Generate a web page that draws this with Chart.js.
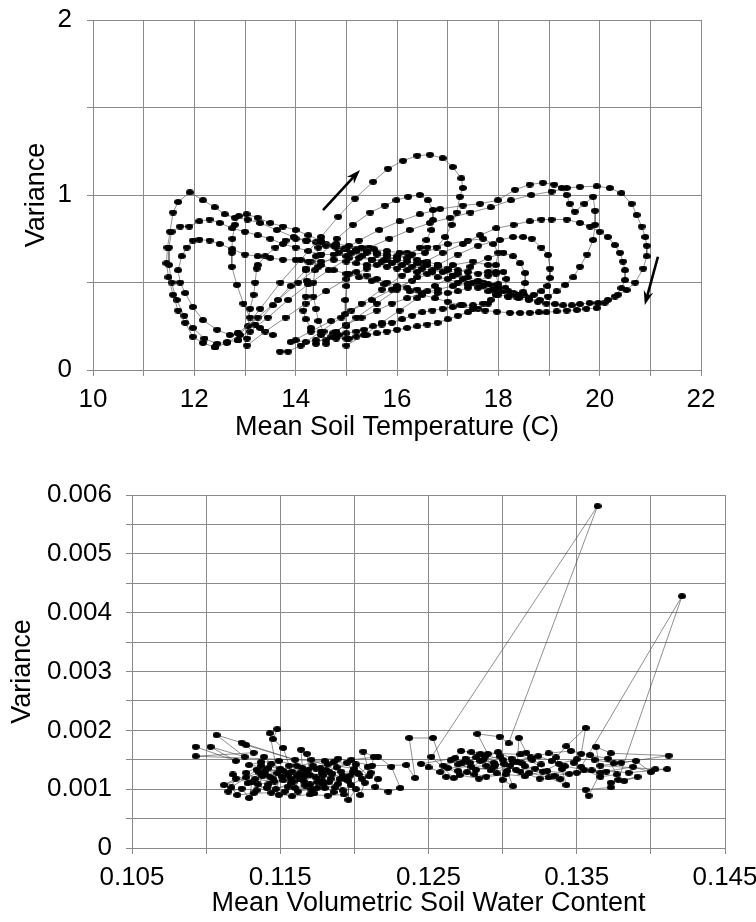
<!DOCTYPE html>
<html>
<head>
<meta charset="utf-8">
<script src="https://cdn.jsdelivr.net/npm/chart.js@4.4.1/dist/chart.umd.min.js"></script>
<style>
  body { margin: 0; background: #fff; overflow: hidden; }
  canvas { position: absolute; left: 0; }
  #tempChart { top: 0; }
  #waterChart { top: 460px; }
</style>
</head>
<body>
<canvas id="tempChart" width="756" height="460"></canvas>
<canvas id="waterChart" width="756" height="462"></canvas>
<script>
// top panel: variance vs mean soil temperature, one array per daily loop [temp, variance]
const cycle1 = [[12.41,0.13],[12.64,0.155],[12.9,0.2],[13.3,0.35],[13.7,0.5],[14.1,0.63],[14.5,0.76],[14.84,0.876],[15.17,0.98],[15.53,1.076],[15.82,1.15],[16.12,1.196],[16.4,1.225],[16.65,1.23],[16.9,1.21],[17.1,1.16],[17.27,1.095],[17.3,1.04],[17.24,0.99],[17.18,0.9],[17.08,0.83],[16.95,0.76],[16.78,0.7],[16.55,0.67],[16.3,0.66],[16.05,0.67],[15.8,0.68],[15.55,0.69],[15.3,0.7],[15.05,0.71],[14.8,0.72],[14.5,0.73],[14.22,0.74],[13.96,0.76],[13.63,0.8],[13.3,0.84],[13.05,0.86],[12.8,0.87],[12.6,0.89],[12.4,0.93],[12.17,0.97],[11.91,1.015],[11.68,0.96],[11.58,0.9],[11.52,0.79],[11.47,0.7],[11.45,0.61],[11.49,0.53],[11.58,0.43],[11.68,0.34],[11.82,0.27],[11.97,0.19],[12.17,0.155],[12.41,0.13]];
const cycle2 = [[12.86,0.17],[13.2,0.26],[13.55,0.37],[13.9,0.48],[14.2,0.57],[14.5,0.66],[14.81,0.75],[15.13,0.83],[15.47,0.9],[15.76,0.94],[15.99,0.97],[16.22,0.99],[16.45,1.0],[16.61,0.97],[16.71,0.914],[16.71,0.857],[16.68,0.8],[16.58,0.743],[16.45,0.7],[16.25,0.66],[16.0,0.64],[15.75,0.63],[15.5,0.63],[15.25,0.64],[15.0,0.65],[14.75,0.66],[14.5,0.66],[14.25,0.68],[14.0,0.7],[13.75,0.72],[13.5,0.75],[13.25,0.77],[13.0,0.79],[12.75,0.81],[12.5,0.84],[12.3,0.86],[12.1,0.85],[11.9,0.82],[11.72,0.82],[11.55,0.79],[11.5,0.7],[11.5,0.6],[11.55,0.5],[11.65,0.4],[11.8,0.31],[11.97,0.24],[12.2,0.18],[12.45,0.15],[12.65,0.16],[12.86,0.17]];
const cycle3 = [[12.86,0.21],[13.25,0.3],[13.65,0.4],[14.05,0.5],[14.45,0.59],[14.85,0.67],[15.25,0.74],[15.65,0.8],[16.05,0.85],[16.45,0.89],[16.85,0.92],[17.3,0.94],[17.64,0.95],[17.99,0.97],[18.33,1.03],[18.62,1.06],[18.88,1.07],[19.1,1.06],[19.25,1.04],[19.35,1.0],[19.41,0.95],[19.51,0.905],[19.7,0.95],[19.87,0.99],[19.91,0.91],[19.91,0.83],[19.87,0.743],[19.75,0.66],[19.61,0.59],[19.48,0.53],[19.32,0.486],[19.15,0.45],[18.98,0.42],[18.82,0.4],[18.6,0.4],[18.4,0.41],[18.2,0.42],[18.0,0.43],[17.8,0.45],[17.6,0.47],[17.4,0.49],[17.2,0.5],[17.0,0.52],[16.8,0.53],[16.6,0.55],[16.4,0.56],[16.2,0.57],[16.0,0.58],[15.8,0.59],[15.6,0.6],[15.4,0.6],[15.2,0.61],[15.0,0.62],[14.75,0.63],[14.5,0.62],[14.25,0.62],[14.0,0.63],[13.75,0.63],[13.5,0.64],[13.25,0.65],[13.0,0.66],[12.75,0.69],[12.5,0.72],[12.3,0.74],[12.1,0.745],[11.97,0.74],[11.85,0.7],[11.75,0.65],[11.68,0.57],[11.72,0.5],[11.82,0.44],[11.97,0.36],[12.17,0.285],[12.45,0.23],[12.7,0.2],[12.86,0.21]];
const cycle4 = [[13.1,0.22],[13.45,0.3],[13.85,0.4],[14.25,0.49],[14.65,0.57],[15.05,0.64],[15.45,0.7],[15.85,0.75],[16.25,0.8],[16.65,0.84],[17.05,0.87],[17.45,0.9],[17.85,0.93],[18.25,0.97],[18.65,1.0],[19.05,1.02],[19.35,1.04],[19.61,1.047],[19.94,1.05],[20.2,1.04],[20.43,1.01],[20.63,0.95],[20.73,0.886],[20.83,0.82],[20.9,0.76],[20.93,0.71],[20.93,0.65],[20.86,0.58],[20.7,0.5],[20.53,0.457],[20.36,0.43],[20.16,0.4],[19.97,0.383],[19.8,0.383],[19.61,0.377],[19.45,0.37],[19.28,0.37],[19.12,0.377],[18.95,0.38],[18.78,0.39],[18.6,0.41],[18.4,0.43],[18.2,0.45],[18.0,0.47],[17.8,0.49],[17.6,0.51],[17.4,0.53],[17.2,0.55],[17.0,0.57],[16.8,0.59],[16.6,0.6],[16.4,0.61],[16.2,0.62],[16.0,0.63],[15.8,0.65],[15.6,0.66],[15.4,0.67],[15.2,0.68],[15.0,0.69],[14.75,0.71],[14.5,0.74],[14.25,0.77],[14.0,0.8],[13.75,0.82],[13.5,0.84],[13.25,0.87],[13.03,0.89],[12.88,0.88],[12.8,0.83],[12.75,0.75],[12.74,0.67],[12.74,0.59],[12.84,0.486],[12.97,0.38],[13.1,0.3],[13.3,0.24],[13.55,0.2]];
const cycle5 = [[13.69,0.105],[13.85,0.105],[14.1,0.14],[14.5,0.22],[14.9,0.3],[15.3,0.38],[15.7,0.46],[16.1,0.54],[16.5,0.61],[16.9,0.67],[17.3,0.72],[17.64,0.77],[17.96,0.81],[18.3,0.83],[18.62,0.85],[18.85,0.86],[19.05,0.86],[19.35,0.86],[19.61,0.84],[19.81,0.82],[20.0,0.79],[20.16,0.76],[20.3,0.714],[20.4,0.67],[20.46,0.62],[20.5,0.57],[20.5,0.514],[20.43,0.468],[20.3,0.42],[20.1,0.385],[19.94,0.354],[19.74,0.35],[19.55,0.343],[19.35,0.34],[19.15,0.335],[18.95,0.33],[18.8,0.33],[18.62,0.327],[18.43,0.326],[18.23,0.327],[17.97,0.333],[17.74,0.34],[17.5,0.35],[17.25,0.37],[17.0,0.39],[16.75,0.41],[16.5,0.43],[16.25,0.45],[16.0,0.47],[15.75,0.49],[15.5,0.51],[15.25,0.53],[15.0,0.55],[14.75,0.57],[14.5,0.6],[14.3,0.62],[14.2,0.58],[14.22,0.51],[14.2,0.42],[14.15,0.34],[14.2,0.29],[14.3,0.24],[14.5,0.2]];
const cycle6 = [[14.4,0.15],[14.8,0.22],[15.2,0.3],[15.6,0.38],[16.0,0.46],[16.4,0.53],[16.8,0.6],[17.2,0.66],[17.6,0.71],[18.03,0.743],[18.29,0.76],[18.49,0.76],[18.66,0.75],[18.85,0.7],[18.98,0.657],[19.02,0.58],[19.02,0.526],[18.97,0.48],[18.85,0.45],[18.7,0.43],[18.5,0.43],[18.3,0.44],[18.1,0.45],[17.9,0.46],[17.7,0.48],[17.5,0.5],[17.3,0.52],[17.1,0.54],[16.9,0.56],[16.7,0.57],[16.5,0.58],[16.3,0.59],[16.1,0.6],[15.9,0.61],[15.7,0.62],[15.5,0.63],[15.3,0.65],[15.1,0.67],[14.95,0.69],[14.8,0.7],[14.6,0.71],[14.45,0.7],[14.4,0.65],[14.38,0.57],[14.35,0.5],[14.35,0.42],[14.4,0.35],[14.45,0.28],[14.55,0.22]];
const cycle7 = [[15.0,0.14],[15.35,0.2],[15.7,0.27],[16.05,0.34],[16.4,0.41],[16.75,0.48],[17.1,0.54],[17.45,0.59],[17.8,0.64],[18.1,0.67],[18.29,0.65],[18.43,0.61],[18.53,0.554],[18.53,0.497],[18.49,0.447],[18.35,0.42],[18.2,0.42],[18.14,0.47],[18.16,0.52],[18.1,0.56],[17.95,0.56],[17.8,0.54],[17.6,0.5],[17.4,0.47],[17.2,0.45],[17.0,0.44],[16.8,0.44],[16.6,0.45],[16.4,0.46],[16.2,0.47],[16.0,0.48],[15.8,0.5],[15.6,0.52],[15.4,0.54],[15.2,0.56],[15.05,0.55],[15.0,0.48],[14.98,0.4],[14.98,0.32],[15.0,0.25],[15.05,0.18]];
const cycle8 = [[13.9,0.16],[14.3,0.22],[14.7,0.28],[15.1,0.34],[15.5,0.4],[15.9,0.46],[16.3,0.51],[16.7,0.56],[17.1,0.6],[17.5,0.62],[17.8,0.6],[17.95,0.55],[18.0,0.49],[17.95,0.43],[17.8,0.38],[17.6,0.35],[17.4,0.33],[17.2,0.31],[17.0,0.29],[16.8,0.27],[16.6,0.26],[16.4,0.25],[16.2,0.24],[16.0,0.23],[15.8,0.22],[15.6,0.21],[15.4,0.2],[15.2,0.19],[15.0,0.18],[14.8,0.18],[14.6,0.17],[14.4,0.17],[14.2,0.16],[14.0,0.17]];
const cycle9 = [[13.04,0.14],[13.4,0.22],[13.8,0.3],[14.2,0.38],[14.6,0.45],[15.0,0.52],[15.4,0.58],[15.8,0.63],[16.2,0.67],[16.6,0.7],[17.0,0.72],[17.4,0.74],[17.7,0.75],[17.9,0.72],[18.0,0.67],[17.95,0.6],[17.8,0.56],[17.6,0.55],[17.4,0.56],[17.2,0.57],[17.0,0.58],[16.8,0.6],[16.6,0.62],[16.4,0.63],[16.2,0.64],[16.0,0.65],[15.8,0.66],[15.6,0.67],[15.4,0.68],[15.2,0.69],[15.0,0.7],[14.8,0.71],[14.6,0.72],[14.4,0.73],[14.2,0.74],[14.0,0.75],[13.8,0.74],[13.6,0.7],[13.4,0.65],[13.25,0.6],[13.23,0.58],[13.2,0.5],[13.17,0.43],[13.1,0.35],[13.06,0.25],[13.04,0.18]];
const cycle10 = [[14.6,0.15],[14.74,0.21],[15.0,0.26],[15.3,0.3],[15.6,0.34],[15.9,0.38],[16.2,0.41],[16.5,0.44],[16.8,0.46],[17.1,0.48],[17.4,0.49],[17.7,0.5],[17.9,0.48],[17.95,0.44],[17.85,0.4],[17.7,0.38],[17.5,0.37],[17.3,0.37],[17.1,0.36],[16.9,0.35],[16.7,0.34],[16.5,0.33],[16.3,0.31],[16.1,0.29],[15.9,0.27],[15.7,0.26],[15.53,0.25],[15.35,0.23],[15.2,0.22],[15.0,0.21],[14.85,0.2],[14.7,0.19]];
const tempCycles = [cycle1, cycle2, cycle3, cycle4, cycle5, cycle6, cycle7, cycle8, cycle9, cycle10];

// arrows drawn in data units: [fromX, fromY, toX, toY]
const arrows = [[14.54, 0.914, 15.27, 1.143], [21.15, 0.647, 20.89, 0.371]];

// bottom panel: variance vs mean volumetric soil water content [water, variance]
const drySpell = [[0.1093,0.00172],[0.1120,0.00148],[0.1103,0.00172],[0.1126,0.00155],[0.1107,0.00192],[0.1124,0.00179],[0.1160,0.00150],[0.1127,0.00175],[0.1132,0.00162],[0.1093,0.00156],[0.1180,0.00148],[0.1136,0.00128],[0.1112,0.00107],[0.1120,0.00118],[0.1115,0.00096],[0.1124,0.00101],[0.1129,0.00085],[0.1131,0.00112],[0.1138,0.00122],[0.1134,0.00098],[0.1142,0.00108],[0.1149,0.00090],[0.1145,0.00118],[0.1140,0.00132],[0.1148,0.00127],[0.1143,0.00195],[0.1148,0.00202],[0.1145,0.00185],[0.1152,0.00170],[0.1156,0.00140],[0.1151,0.00121],[0.1157,0.00110],[0.1153,0.00096],[0.1160,0.00102],[0.1163,0.00118],[0.1158,0.00130],[0.1165,0.00136],[0.1164,0.00167],[0.1168,0.00160],[0.1170,0.00124],[0.1167,0.00106],[0.1173,0.00093],[0.1175,0.00112],[0.1178,0.00128],[0.1172,0.00140],[0.1181,0.00133],[0.1184,0.00118],[0.1180,0.00102],[0.1186,0.00095],[0.1189,0.00109],[0.1192,0.00123],[0.1188,0.00137],[0.1195,0.00145],[0.1199,0.00130],[0.1196,0.00114],[0.1196,0.00082],[0.1201,0.00100],[0.1204,0.00090],[0.1207,0.00111],[0.1203,0.00125],[0.1209,0.00138],[0.1206,0.00164],[0.1213,0.00155],[0.1211,0.00128],[0.1216,0.00117],[0.1214,0.00104],[0.1223,0.00096],[0.1231,0.00102],[0.1225,0.00138],[0.1216,0.00155],[0.1198,0.00150],[0.1178,0.00115],[0.1161,0.00122],[0.1146,0.00113],[0.1133,0.00117],[0.1127,0.00128],[0.1137,0.00140],[0.1150,0.00135],[0.1163,0.00127],[0.1174,0.00120],[0.1185,0.00126],[0.1194,0.00118],[0.1187,0.00103],[0.1171,0.00100],[0.1155,0.00104],[0.1141,0.00102],[0.1128,0.00110],[0.1118,0.00125],[0.1135,0.00108],[0.1152,0.00115],[0.1166,0.00113],[0.1179,0.00108],[0.1192,0.00098],[0.1205,0.00118],[0.1200,0.00135],[0.1182,0.00142],[0.1169,0.00133],[0.1156,0.00127],[0.1144,0.00143],[0.1139,0.00155],[0.1140,0.00125],[0.1152,0.00131],[0.1147,0.00100],[0.1159,0.00113],[0.1166,0.00121],[0.1162,0.00096],[0.1175,0.00102],[0.1183,0.00130],[0.1177,0.00136],[0.1190,0.00117],[0.1198,0.00107],[0.1193,0.00091],[0.1182,0.00089],[0.1170,0.00091],[0.1158,0.00088],[0.1144,0.00094],[0.1132,0.00093],[0.1121,0.00090],[0.1117,0.00103],[0.1127,0.00120],[0.1134,0.00133],[0.1143,0.00121],[0.1155,0.00124],[0.1167,0.00128],[0.1179,0.00124],[0.1191,0.00130],[0.1202,0.00128],[0.1210,0.00122],[0.1201,0.00142],[0.1186,0.00146],[0.1174,0.00135],[0.1161,0.00140],[0.1149,0.00148],[0.1137,0.00146],[0.1129,0.00141],[0.1142,0.00136],[0.1157,0.00118],[0.1170,0.00108],[0.1183,0.00112],[0.1197,0.00123],[0.1171,0.00150],[0.1189,0.00152],[0.1212,0.00140],[0.1235,0.00141],[0.1241,0.00119]];
const wetSpell = [[0.1237,0.00187],[0.1253,0.00187],[0.1262,0.00121],[0.1267,0.00119],[0.1252,0.00155],[0.1364,0.00581],[0.1304,0.00178],[0.1298,0.00189],[0.1283,0.00194],[0.1290,0.00160],[0.1275,0.00152],[0.1260,0.00140],[0.1270,0.00131],[0.1281,0.00125],[0.1278,0.00145],[0.1287,0.00150],[0.1295,0.00141],[0.1300,0.00116],[0.1307,0.00105],[0.1303,0.00131],[0.1310,0.00146],[0.1311,0.00187],[0.1316,0.00162],[0.1320,0.00150],[0.1326,0.00142],[0.1318,0.00128],[0.1331,0.00120],[0.1343,0.00107],[0.1340,0.00134],[0.1336,0.00154],[0.1343,0.00173],[0.1356,0.00204],[0.1353,0.00160],[0.1348,0.00145],[0.1353,0.00138],[0.1421,0.00428],[0.1378,0.00116],[0.1382,0.00114],[0.1391,0.00121],[0.1373,0.00111],[0.1373,0.00103],[0.1356,0.00099],[0.1358,0.00089],[0.1366,0.00128],[0.1363,0.00172],[0.1373,0.00161],[0.1412,0.00157],[0.1380,0.00145],[0.1366,0.00140],[0.1403,0.00134],[0.1411,0.00134],[0.1385,0.00128],[0.1360,0.00132],[0.1345,0.00126],[0.1330,0.00131],[0.1315,0.00139],[0.1300,0.00150],[0.1285,0.00160],[0.1272,0.00165],[0.1265,0.00149],[0.1258,0.00129],[0.1250,0.00137],[0.1245,0.00143],[0.1268,0.00153],[0.1279,0.00138],[0.1292,0.00132],[0.1305,0.00140],[0.1298,0.00156],[0.1285,0.00148],[0.1276,0.00129],[0.1289,0.00121],[0.1302,0.00125],[0.1315,0.00122],[0.1327,0.00130],[0.1338,0.00143],[0.1350,0.00151],[0.1362,0.00150],[0.1375,0.00144],[0.1390,0.00148],[0.1400,0.00129],[0.1388,0.00138],[0.1370,0.00130],[0.1350,0.00128],[0.1335,0.00123],[0.1322,0.00135],[0.1309,0.00133],[0.1294,0.00145],[0.1282,0.00154],[0.1273,0.00145],[0.1270,0.00142],[0.1282,0.00133],[0.1294,0.00138],[0.1288,0.00155],[0.1297,0.00163],[0.1306,0.00152],[0.1313,0.00144],[0.1324,0.00156],[0.1333,0.00148],[0.1342,0.00139],[0.1355,0.00133],[0.1366,0.00121],[0.1377,0.00125],[0.1371,0.00152],[0.1359,0.00158],[0.1346,0.00165],[0.1331,0.00161],[0.1319,0.00154],[0.1307,0.00147],[0.1296,0.00127],[0.1284,0.00118],[0.1271,0.00124],[0.1263,0.00136],[0.1289,0.00140],[0.1301,0.00143],[0.1312,0.00130],[0.1325,0.00118],[0.1339,0.00117],[0.1312,0.00159],[0.1279,0.00163]];

Chart.defaults.font.family = '"Liberation Sans", Arial, sans-serif';
Chart.defaults.color = '#000';
Chart.defaults.animation = false;

// little black ellipse used as marker
function makeDot(w, h) {
    const c = document.createElement('canvas');
    c.width = w; c.height = h;
    const g = c.getContext('2d');
    g.fillStyle = '#000';
    g.beginPath();
    g.ellipse(w / 2, h / 2, w / 2, h / 2, 0, 0, Math.PI * 2);
    g.fill();
    return c;
}
const dotTop = makeDot(8, 6);
const dotBottom = makeDot(8, 6);

const toXY = (arr) => arr.map(p => ({ x: p[0], y: p[1] }));

const gridStyle = { color: '#8a8a8a', lineWidth: 1, tickLength: 6, tickColor: '#8a8a8a' };
const borderStyle = { color: '#8a8a8a', width: 1 };

const arrowPlugin = {
    id: 'arrows',
    afterDatasetsDraw(chart) {
        const { ctx, scales: { x, y } } = chart;
        ctx.save();
        ctx.strokeStyle = '#000';
        ctx.fillStyle = '#000';
        ctx.lineWidth = 2.6;
        arrows.forEach(a => {
            const x1 = x.getPixelForValue(a[0]), y1 = y.getPixelForValue(a[1]);
            const x2 = x.getPixelForValue(a[2]), y2 = y.getPixelForValue(a[3]);
            const ang = Math.atan2(y2 - y1, x2 - x1);
            const head = 15;
            ctx.beginPath();
            ctx.moveTo(x1, y1);
            ctx.lineTo(x2 - Math.cos(ang) * head * 0.6, y2 - Math.sin(ang) * head * 0.6);
            ctx.stroke();
            ctx.beginPath();
            ctx.moveTo(x2, y2);
            ctx.lineTo(x2 - head * Math.cos(ang - 0.33), y2 - head * Math.sin(ang - 0.33));
            ctx.lineTo(x2 - head * 0.65 * Math.cos(ang), y2 - head * 0.65 * Math.sin(ang));
            ctx.lineTo(x2 - head * Math.cos(ang + 0.33), y2 - head * Math.sin(ang + 0.33));
            ctx.closePath();
            ctx.fill();
        });
        ctx.restore();
    }
};

// Grafica superior
new Chart(document.getElementById('tempChart'), {
    type: 'scatter',
    data: {
        datasets: tempCycles.map(c => ({
            data: toXY(c),
            showLine: true,
            borderColor: '#444',
            borderWidth: 0.6,
            pointStyle: dotTop,
            pointRadius: 3,
            pointHoverRadius: 3
        }))
    },
    options: {
        responsive: false,
        layout: { padding: { left: 0, right: 55, top: 20, bottom: 0 } },
        plugins: { legend: { display: false }, tooltip: { enabled: false } },
        scales: {
            x: {
                type: 'linear', min: 10, max: 22,
                grid: gridStyle, border: borderStyle,
                ticks: {
                    stepSize: 1, autoSkip: false, maxRotation: 0, padding: 8,
                    font: { size: 26 },
                    callback: (v) => (Math.round(v) % 2 === 0 ? Math.round(v) : '')
                },
                title: { display: true, text: 'Mean Soil Temperature (C)', font: { size: 27 }, padding: { top: 0, bottom: 16 } },
                afterFit: (axis) => { axis.height = 90; axis.paddingLeft = 0; axis.paddingRight = 0; }
            },
            y: {
                type: 'linear', min: 0, max: 2,
                grid: gridStyle, border: borderStyle,
                ticks: {
                    stepSize: 0.5, autoSkip: false, padding: 15,
                    font: { size: 26 },
                    callback: (v) => (Number.isInteger(v) ? v : '')
                },
                title: { display: true, text: 'Variance', font: { size: 27 }, padding: { top: 20, bottom: 0 } },
                afterFit: (axis) => { axis.width = 93; axis.paddingTop = 0; axis.paddingBottom = 0; }
            }
        }
    },
    plugins: [arrowPlugin]
});

// Grafica inferior
new Chart(document.getElementById('waterChart'), {
    type: 'scatter',
    data: {
        datasets: [drySpell.concat(wetSpell)].map(s => ({
            data: toXY(s),
            showLine: true,
            borderColor: '#444',
            borderWidth: 0.6,
            pointStyle: dotBottom,
            pointRadius: 3,
            pointHoverRadius: 3
        }))
    },
    options: {
        responsive: false,
        layout: { padding: { left: 0, right: 31, top: 35, bottom: 0 } },
        plugins: { legend: { display: false }, tooltip: { enabled: false } },
        scales: {
            x: {
                type: 'linear', min: 0.105, max: 0.145,
                grid: gridStyle, border: borderStyle,
                ticks: {
                    stepSize: 0.005, autoSkip: false, maxRotation: 0, padding: 8,
                    font: { size: 26 },
                    callback: (v) => {
                        const k = Math.round(v * 1000);
                        return (k - 105) % 10 === 0 ? (k / 1000).toFixed(3) : '';
                    }
                },
                title: { display: true, text: 'Mean Volumetric Soil Water Content', font: { size: 27 }, padding: { top: 0, bottom: 2 } },
                afterFit: (axis) => { axis.height = 74; axis.paddingLeft = 0; axis.paddingRight = 0; }
            },
            y: {
                type: 'linear', min: 0, max: 0.006,
                grid: gridStyle, border: borderStyle,
                ticks: {
                    stepSize: 0.0005, autoSkip: false, padding: 14,
                    font: { size: 26 },
                    callback: (v) => {
                        const k = Math.round(v / 0.0005);
                        if (k % 2 !== 0) return '';
                        return k === 0 ? '0' : (k / 2000).toFixed(3);
                    }
                },
                title: { display: true, text: 'Variance', font: { size: 27 }, padding: { top: 6, bottom: 0 } },
                afterFit: (axis) => { axis.width = 132; axis.paddingTop = 0; axis.paddingBottom = 0; }
            }
        }
    }
});
</script>
</body>
</html>
